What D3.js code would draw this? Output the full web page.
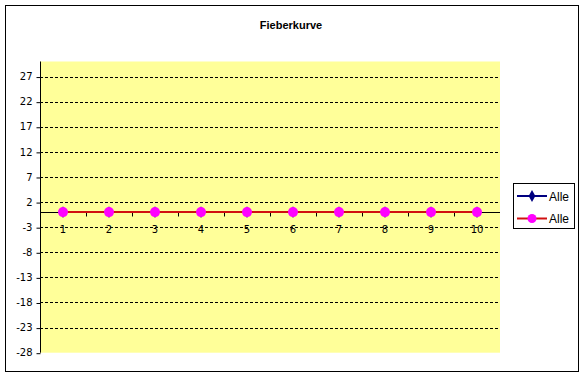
<!DOCTYPE html>
<html lang="de">
<head>
<meta charset="utf-8">
<title>Fieberkurve</title>
<script src="https://cdn.jsdelivr.net/npm/d3@7"></script>
<style>
	body { margin: 0; background: #fff; }
	svg { display: block; }
	text { font-family: "Liberation Sans", Arial, sans-serif; }
</style>
</head>
<body>
<script>
// data
var categories = [1, 2, 3, 4, 5, 6, 7, 8, 9, 10];
var serie1 = [0, 0, 0, 0, 0, 0, 0, 0, 0, 0];
var serie2 = [0, 0, 0, 0, 0, 0, 0, 0, 0, 0];
var seriesNames = ["Alle", "Alle"];
var yTicks = [-28, -23, -18, -13, -8, -3, 2, 7, 12, 17, 22, 27];

var w = 584, h = 377;
var plotLeft = 40, plotRight = 500, plotTop = 61.5, plotBottom = 352.7;

var svg = d3.select("body").append("svg")
	.attr("width", w)
	.attr("height", h);

// outer border
svg.append("rect")
	.attr("x", 5.5).attr("y", 5.5)
	.attr("width", 573).attr("height", 366)
	.attr("fill", "#fff").attr("stroke", "#000");

// title
svg.append("text")
	.attr("x", 291).attr("y", 29)
	.attr("text-anchor", "middle")
	.style("font-size", "11px")
	.style("font-weight", "bold")
	.text("Fieberkurve");

var x = d3.scaleBand().domain(categories).range([plotLeft, plotRight]);
var y = d3.scaleLinear().domain([-28, 30]).range([plotBottom, plotTop]);

// plot area
svg.append("rect")
	.attr("x", plotLeft).attr("y", plotTop)
	.attr("width", plotRight - plotLeft).attr("height", plotBottom - plotTop)
	.attr("fill", "#ffff99");

// gridlines
svg.selectAll(".grid")
	.data(yTicks.filter(function(d) { return d > -28; }))
	.enter().append("line")
	.attr("x1", plotLeft).attr("x2", plotRight)
	.attr("y1", function(d) { return Math.round(y(d)) + 0.5; })
	.attr("y2", function(d) { return Math.round(y(d)) + 0.5; })
	.attr("stroke", "#000")
	.attr("stroke-dasharray", "3,2");

// y axis (plain hyphen for negatives, like the original)
var yAxis = d3.axisLeft(y).tickValues(yTicks).tickFormat(String).tickSize(4).tickPadding(4);
var gy = svg.append("g")
	.attr("transform", "translate(" + (plotLeft + 0.5) + ",0)")
	.call(yAxis);
gy.select(".domain").attr("d", "M0," + plotTop + "V" + plotBottom);
gy.selectAll(".tick line").attr("transform", "translate(0,0.5)");
gy.selectAll("text").style("font-size", "10px").style("font-family", "Tahoma, 'DejaVu Sans', sans-serif");

// x axis at zero
var y0 = Math.round(y(0)) + 0.5;
svg.append("line")
	.attr("x1", plotLeft).attr("x2", plotRight)
	.attr("y1", y0).attr("y2", y0)
	.attr("stroke", "#000");
svg.selectAll(".xtick")
	.data(categories.slice(1))
	.enter().append("line")
	.attr("x1", function(d) { return Math.round(x(d)) + 0.5; })
	.attr("x2", function(d) { return Math.round(x(d)) + 0.5; })
	.attr("y1", y0).attr("y2", y0 + 4)
	.attr("stroke", "#000");
svg.selectAll(".xlabel")
	.data(categories)
	.enter().append("text")
	.attr("x", function(d) { return x(d) + x.bandwidth() / 2; })
	.attr("y", y0 + 20)
	.attr("text-anchor", "middle")
	.style("font-size", "10px")
	.style("font-family", "Tahoma, 'DejaVu Sans', sans-serif")
	.text(function(d) { return d; });

var line = d3.line()
	.x(function(d, i) { return x(categories[i]) + x.bandwidth() / 2; })
	.y(function(d) { return y(d); });

// serie 1 (navy, diamonds)
svg.append("path").datum(serie1)
	.attr("d", line).attr("fill", "none")
	.attr("stroke", "#000080").attr("stroke-width", 2);
svg.selectAll(".m1").data(serie1).enter().append("path")
	.attr("d", d3.symbol(d3.symbolDiamond, 40))
	.attr("transform", function(d, i) { return "translate(" + (x(categories[i]) + x.bandwidth() / 2) + "," + y(d) + ")"; })
	.attr("fill", "#000080");

// serie 2 (red line, magenta circles)
svg.append("path").datum(serie2)
	.attr("d", line).attr("fill", "none")
	.attr("stroke", "#d01010").attr("stroke-width", 2);
svg.selectAll(".m2").data(serie2).enter().append("circle")
	.attr("cx", function(d, i) { return x(categories[i]) + x.bandwidth() / 2; })
	.attr("cy", function(d) { return y(d); })
	.attr("r", 5)
	.attr("fill", "#ff00ff");

// legend
var lg = svg.append("g");
lg.append("rect")
	.attr("x", 513.5).attr("y", 183.5)
	.attr("width", 61).attr("height", 45)
	.attr("fill", "#fff").attr("stroke", "#000");
var colors = ["#000080", "#d01010"];
seriesNames.forEach(function(name, i) {
	var ly = 196 + i * 22.5;
	lg.append("line")
		.attr("x1", 517).attr("x2", 547)
		.attr("y1", ly).attr("y2", ly)
		.attr("stroke", colors[i]).attr("stroke-width", 2);
	if (i === 0) {
		lg.append("path")
			.attr("d", d3.symbol(d3.symbolDiamond, 40))
			.attr("transform", "translate(532," + ly + ")")
			.attr("fill", "#000080");
	} else {
		lg.append("circle")
			.attr("cx", 532).attr("cy", ly).attr("r", 4.5)
			.attr("fill", "#ff00ff");
	}
	lg.append("text")
		.attr("x", 549).attr("y", ly + 4.5)
		.style("font-size", "12px")
		.text(name);
});
</script>
</body>
</html>
